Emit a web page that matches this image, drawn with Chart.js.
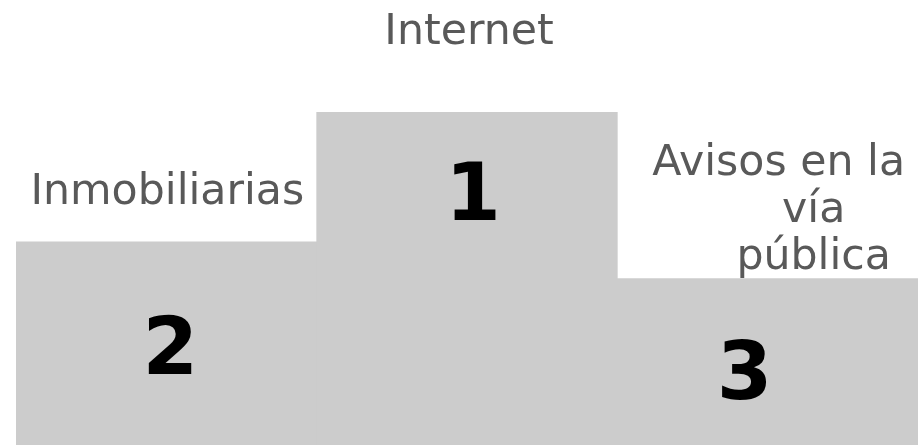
<!DOCTYPE html>
<html>
<head>
<meta charset="utf-8">
<script src="https://cdn.jsdelivr.net/npm/chart.js@4/dist/chart.umd.min.js"></script>
<style>
  html, body { margin: 0; padding: 0; background: #ffffff; }
  #wrap { width: 918px; height: 445px; position: relative; }
</style>
</head>
<body>
<div id="wrap"><canvas id="c" width="918" height="445"></canvas></div>
<script>
// Podium categories (left to right), podium heights, and ranks shown in the steps
const categories = ["Inmobiliarias", "Internet", "Avisos en la vía pública"];
const labelLines = [["Inmobiliarias"], ["Internet"], ["Avisos en la", "vía", "pública"]];
const podiumHeights = [61, 100, 50];
const ranks = ["2", "1", "3"];

const textFont = '"DejaVu Sans", Verdana, sans-serif';

const podiumPlugin = {
  id: 'podiumText',
  afterDatasetsDraw(chart, args, opts) {
    const ctx = chart.ctx;
    const meta = chart.getDatasetMeta(0);
    ctx.save();
    meta.data.forEach((bar, i) => {
      const cx = bar.x;
      const top = bar.y;
      // category label above the step
      ctx.fillStyle = '#595959';
      ctx.font = '42.67px ' + textFont;
      ctx.textAlign = 'center';
      ctx.textBaseline = 'alphabetic';
      const lines = labelLines[i];
      const lo = opts.labelOffsets[i];
      lines.forEach((ln, k) => {
        const dx = lo.dx[k];
        ctx.fillText(ln, cx + dx, top + lo.baseline + k * lo.lineHeight);
      });
      // rank number inside the step
      ctx.fillStyle = '#000000';
      ctx.font = 'bold 80px ' + textFont;
      const ro = opts.rankOffsets[i];
      ctx.fillText(ranks[i], cx + ro.dx, top + ro.dy);
    });
    ctx.restore();
  }
};

new Chart(document.getElementById('c'), {
  type: 'bar',
  data: {
    labels: categories,
    datasets: [{
      data: podiumHeights,
      backgroundColor: '#cccccc',
      borderWidth: 0,
      categoryPercentage: 1.0,
      barPercentage: 1.0
    }]
  },
  options: {
    responsive: false,
    animation: false,
    layout: { padding: { left: 16, right: 0, top: 112, bottom: 0 } },
    scales: {
      x: { display: false },
      y: { display: false, min: 0, max: 100 }
    },
    plugins: {
      legend: { display: false },
      tooltip: { enabled: false },
      podiumText: {
        labelOffsets: [
          { baseline: -38, lineHeight: 42, dx: [1] },
          { baseline: -68, lineHeight: 42, dx: [2] },
          { baseline: -104, lineHeight: 47, dx: [11, 46, 46] }
        ],
        rankOffsets: [
          { dx: 4, dy: 132 },
          { dx: 6, dy: 108 },
          { dx: -23, dy: 120 }
        ]
      }
    }
  },
  plugins: [podiumPlugin]
});
</script>
</body>
</html>
